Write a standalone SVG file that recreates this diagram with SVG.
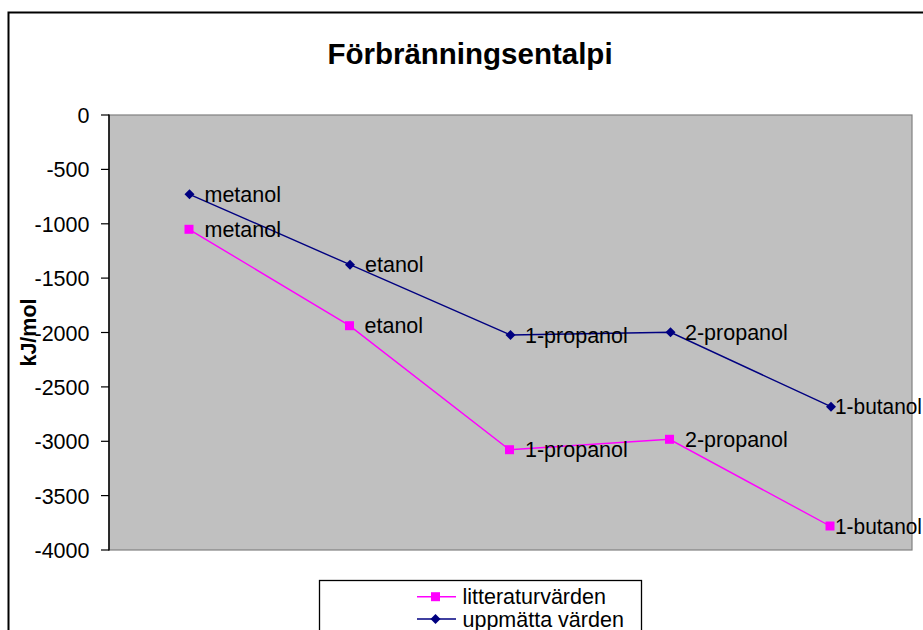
<svg xmlns="http://www.w3.org/2000/svg" width="923" height="630" viewBox="0 0 923 630">
<style>
text{font-family:"Liberation Sans",Arial,sans-serif;fill:#000}
.tick{font-size:21.5px;text-anchor:end}
.lbl{font-size:21.5px}
.leg{font-size:21.5px}
.blue{fill:none;stroke:#000080;stroke-width:1.4}
.pink{fill:none;stroke:#FF00FF;stroke-width:1.4}
.tk{stroke:#000;stroke-width:1.2}
</style>
<defs>
<path id="dia" d="M0,-5 L5,0 L0,5 L-5,0 Z" fill="#000080"/>
<rect id="sq" x="-4.5" y="-4.5" width="9" height="9" fill="#FF00FF"/>
</defs>
<rect x="0" y="0" width="923" height="630" fill="#fff"/>
<rect x="8.5" y="12.5" width="1000" height="700" fill="none" stroke="#000" stroke-width="2"/>
<g id="title"><text x="470" y="63.5" font-size="29.5" font-weight="bold" text-anchor="middle">Förbränningsentalpi</text></g>
<g id="plot">
<rect x="109" y="115" width="803" height="435" fill="#C0C0C0" stroke="#808080" stroke-width="1.2"/>
<line x1="109" y1="114.5" x2="109" y2="550.5" stroke="#000" stroke-width="1.5"/>
</g>
<g id="yaxis">
<line class="tk" x1="101" y1="115" x2="109" y2="115"/>
<line class="tk" x1="101" y1="169.4" x2="109" y2="169.4"/>
<line class="tk" x1="101" y1="223.8" x2="109" y2="223.8"/>
<line class="tk" x1="101" y1="278.1" x2="109" y2="278.1"/>
<line class="tk" x1="101" y1="332.5" x2="109" y2="332.5"/>
<line class="tk" x1="101" y1="386.9" x2="109" y2="386.9"/>
<line class="tk" x1="101" y1="441.3" x2="109" y2="441.3"/>
<line class="tk" x1="101" y1="495.6" x2="109" y2="495.6"/>
<line class="tk" x1="101" y1="550" x2="109" y2="550"/>
<text class="tick" x="89.5" y="123">0</text>
<text class="tick" x="89.5" y="177.4">-500</text>
<text class="tick" x="89.5" y="231.8">-1000</text>
<text class="tick" x="89.5" y="286.1">-1500</text>
<text class="tick" x="89.5" y="340.5">-2000</text>
<text class="tick" x="89.5" y="394.9">-2500</text>
<text class="tick" x="89.5" y="449.3">-3000</text>
<text class="tick" x="89.5" y="503.6">-3500</text>
<text class="tick" x="89.5" y="558">-4000</text>
<text x="36" y="332.5" font-size="21.5" font-weight="bold" text-anchor="middle" transform="rotate(-90 36 332.5)">kJ/mol</text>
</g>
<g id="connectors">
<polyline class="blue" points="189.5,194.3 350,264.7 510.5,335 670.5,332.3 831,406.7"/>
<polyline class="pink" points="189,229.3 349.5,325.7 509.5,449.7 669.5,439.3 830,526"/>
</g>
<g id="series-uppmatta">
<g id="u-metanol"><use href="#dia" x="189.5" y="194.3"/><text class="lbl" x="204.5" y="201.8">metanol</text></g>
<g id="u-etanol"><use href="#dia" x="350" y="264.7"/><text class="lbl" x="365" y="272.2">etanol</text></g>
<g id="u-1-propanol"><use href="#dia" x="510.5" y="335"/><text class="lbl" x="525" y="342.5">1-propanol</text></g>
<g id="u-2-propanol"><use href="#dia" x="670.5" y="332.3"/><text class="lbl" x="685" y="339.8">2-propanol</text></g>
<g id="u-1-butanol"><use href="#dia" x="831" y="406.7"/><text class="lbl" x="835" y="414.2" textLength="87" lengthAdjust="spacingAndGlyphs">1-butanol</text></g>
</g>
<g id="series-litteratur">
<g id="l-metanol"><use href="#sq" x="189" y="229.3"/><text class="lbl" x="204.5" y="237.3">metanol</text></g>
<g id="l-etanol"><use href="#sq" x="349.5" y="325.7"/><text class="lbl" x="364.5" y="333.2">etanol</text></g>
<g id="l-1-propanol"><use href="#sq" x="509.5" y="449.7"/><text class="lbl" x="525" y="457.2">1-propanol</text></g>
<g id="l-2-propanol"><use href="#sq" x="669.5" y="439.3"/><text class="lbl" x="685" y="446.8">2-propanol</text></g>
<g id="l-1-butanol"><use href="#sq" x="830" y="526"/><text class="lbl" x="835" y="533.5" textLength="87" lengthAdjust="spacingAndGlyphs">1-butanol</text></g>
</g>
<g id="legend">
<rect x="319.5" y="580.5" width="322" height="80" fill="#fff" stroke="#000" stroke-width="1.3"/>
<line class="pink" x1="417" y1="596.7" x2="456" y2="596.7"/>
<use href="#sq" x="435.5" y="596.7"/>
<text class="leg" x="462.5" y="604.3">litteraturvärden</text>
<line class="blue" x1="417" y1="619" x2="456" y2="619"/>
<use href="#dia" x="435.5" y="619"/>
<text class="leg" x="462.5" y="626.5">uppmätta värden</text>
</g>
</svg>
